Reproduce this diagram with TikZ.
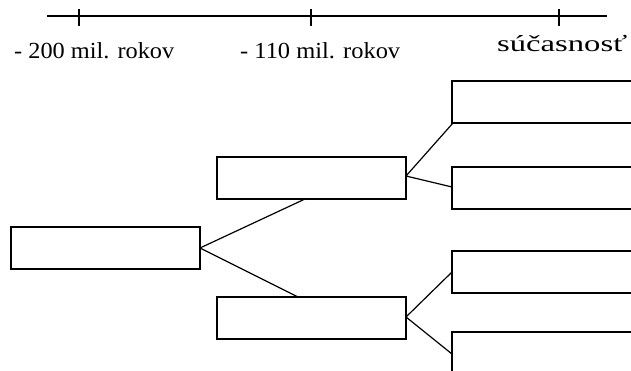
\documentclass[tikz,border=0pt]{standalone}
\usepackage{fontspec}
\setmainfont{Liberation Serif}
\usepackage{graphicx}
\begin{document}
\begin{tikzpicture}[x=1pt,y=-1pt,
  box/.style={draw=black,line width=1.4pt},
  conn/.style={draw=black,line width=1.2pt},
  lbl/.style={anchor=base west,inner sep=0pt,font=\fontsize{23}{26}\selectfont}]
\useasboundingbox (0,0) rectangle (631,371);
\clip (0,0) rectangle (631,371);
% timeline
\coordinate (t0) at (47,16);
\coordinate (t1) at (607,16);
\draw[line width=1.6pt] (t0) -- (t1);
\coordinate (k1a) at (79,9); \coordinate (k1b) at (79,26);
\coordinate (k2a) at (311,9); \coordinate (k2b) at (311,26);
\coordinate (k3a) at (559,9); \coordinate (k3b) at (559,26);
\draw[line width=1.4pt] (k1a) -- (k1b) (k2a) -- (k2b) (k3a) -- (k3b);
\node[lbl] (l1) at (14,59) {\resizebox{160pt}{\height}{- 200 mil. rokov}};
\node[lbl] (l2) at (240,59) {\resizebox{160pt}{\height}{- 110 mil. rokov}};
\node[lbl] (l3) at (497,52) {\resizebox{130pt}{\height}{súčasnosť}};
% boxes
\draw[box] (11,227) rectangle (200,269);
\coordinate (A) at (200,248);
\draw[box] (217,157) rectangle (406,199);
\draw[box] (217,297) rectangle (406,339);
\draw[box] (452,81) rectangle (645,123);
\draw[box] (452,167) rectangle (645,209);
\draw[box] (452,251) rectangle (645,293);
\draw[box] (452,332) rectangle (645,390);
% connectors
\coordinate (Bu) at (305,199);
\coordinate (Bd) at (298,297);
\coordinate (C) at (406,176);
\coordinate (D) at (406,317);
\coordinate (E1) at (453,123);
\coordinate (E2) at (452,187);
\coordinate (E3) at (452,272);
\coordinate (E4) at (452,354);
\draw[conn] (A) -- (Bu) (A) -- (Bd);
\draw[conn] (C) -- (E1) (C) -- (E2);
\draw[conn] (D) -- (E3) (D) -- (E4);
\end{tikzpicture}
\end{document}
